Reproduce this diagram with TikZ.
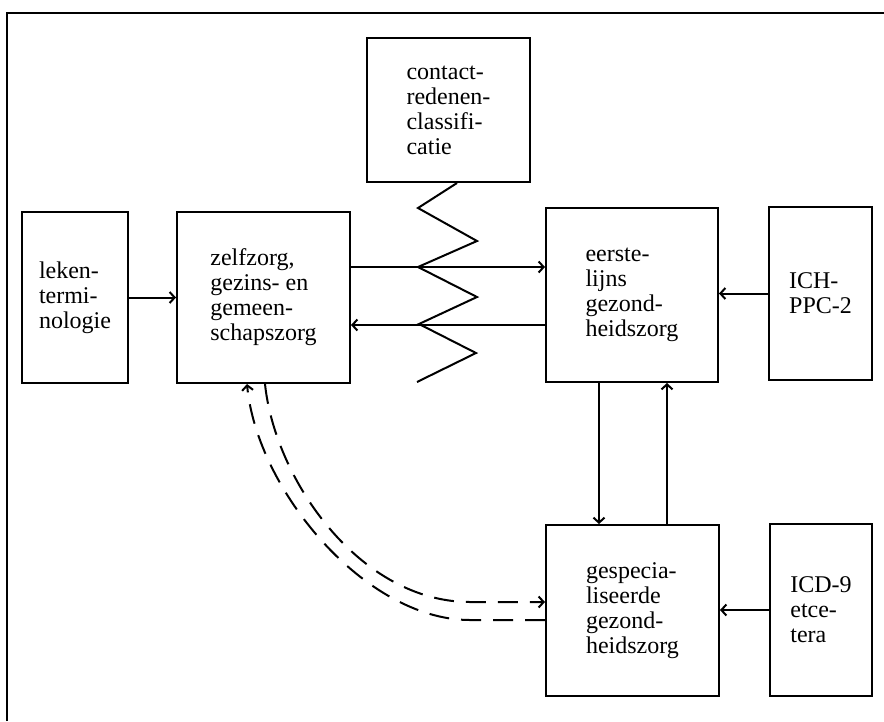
\documentclass[tikz,border=0pt]{standalone}
\usepackage{fontspec}
\setmainfont{Liberation Serif}
\usetikzlibrary{arrows.meta}

\begin{document}
\begin{tikzpicture}[x=1pt,y=-1pt,line width=2pt,
                    blok/.style={draw, align=left, inner sep=0pt,
                                 font=\fontsize{24}{25}\selectfont},
                    pijl/.style={-{Straight Barb[length=5pt,width=11pt]}},
                    stippel/.style={pijl, dash pattern=on 20pt off 12pt}]

    \useasboundingbox (0,0) rectangle (884,721);
    % kader
    \draw (7,721) -- (7,13) -- (884,13);

    \node[blok, minimum width=163pt, minimum height=144pt] (cls) at (448.5,110) {contact-\\redenen-\\classifi-\\catie};
    \node[blok, minimum width=106pt, minimum height=171pt] (leken) at (75,297.5) {leken-\\termi-\\nologie};
    \node[blok, minimum width=173pt, minimum height=171pt] (zelf) at (263.5,297.5) {zelfzorg,\\gezins- en\\gemeen-\\schapszorg};
    \node[blok, minimum width=172pt, minimum height=174pt] (eerste) at (632,295) {eerste-\\lijns\\gezond-\\heidszorg};
    \node[blok, minimum width=103pt, minimum height=173pt] (ich) at (820.5,293.5) {ICH-\\PPC-2};
    \node[blok, minimum width=173pt, minimum height=171pt] (gespec) at (632.5,610.5) {gespecia-\\liseerde\\gezond-\\heidszorg};
    \node[blok, minimum width=102pt, minimum height=172pt] (icd) at (821,610) {ICD-9\\etce-\\tera};

    % zigzag onder de classificatie
    \draw ([xshift=8.5pt]cls.south) -- (418,208) -- (477,241) -- (418,267) -- (477,297)
          -- (419,324) -- (476,353) -- (417,382);

    \coordinate (boven) at (0,267);
    \coordinate (onder) at (0,325);
    \coordinate (neer) at (599,0);
    \coordinate (op) at (667,0);

    \draw[pijl] (leken) -- (zelf);
    \draw[pijl] (zelf.east |- boven) -- (eerste.west |- boven);
    \draw[pijl] (eerste.west |- onder) -- (zelf.east |- onder);
    \draw[pijl] (ich.west) -- (eerste.east |- ich.west);
    \draw[pijl] (icd.west) -- (gespec.east |- icd.west);
    \draw[pijl] (eerste.south -| neer) -- (gespec.north -| neer);
    \draw[pijl] (gespec.north -| op) -- (eerste.south -| op);

    % gestippelde verbindingen
    \coordinate (d1) at (265,0);
    \coordinate (d2) at (247,0);
    \coordinate (h1) at (0,602);
    \coordinate (h2) at (0,620);
    \draw[stippel] (zelf.south -| d1) .. controls (275,480) and (360,602) .. (470,602) -- (gespec.west |- h1);
    \draw[stippel] (gespec.west |- h2) -- (470,620) .. controls (365,620) and (257,490) .. (zelf.south -| d2);
\end{tikzpicture}
\end{document}
